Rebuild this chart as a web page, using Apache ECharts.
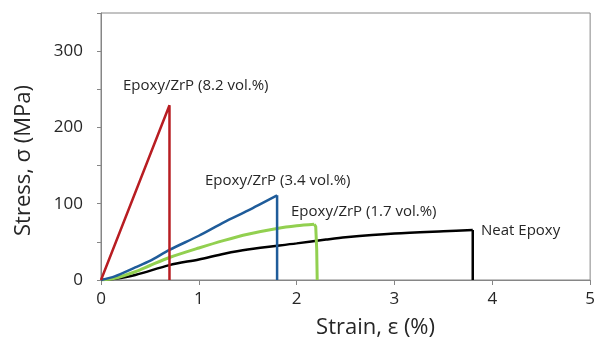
<!DOCTYPE html>
<html><head><meta charset="utf-8">
<script src="https://cdn.jsdelivr.net/npm/echarts@6/dist/echarts.min.js"></script>
<style>html,body{margin:0;padding:0;background:#fff}#c{width:598px;height:344px}</style>
</head><body><div id="c"></div>
<script>
// Strain (%) , Stress (MPa)
const neatEpoxy = [[0,0],[0.14,1.5],[0.35,6.5],[0.7,19.5],[1.0,27],[1.26,34.5],[1.5,40],[2.0,48],[2.3,53],[2.5,56],[3.0,61],[3.5,64],[3.8,65.5]];
const neatDrop = [[3.8,65.5],[3.8,0]];
const zrp17 = [[0,0],[0.14,2.2],[0.35,10.8],[0.5,19],[0.7,29.5],[1.0,42],[1.26,52],[1.5,60],[1.8,67.5],[2.0,71],[2.18,73]];
const zrp17Drop = [[2.18,73],[2.195,70],[2.205,40],[2.21,0]];
const zrp34 = [[0,0],[0.14,4.8],[0.35,16.5],[0.5,25],[0.7,39.5],[1.0,58],[1.26,76],[1.5,91],[1.8,111]];
const zrp34Drop = [[1.8,111],[1.8,0]];
const zrp82 = [[0,0],[0.7,229],[0.7,0]];
const xTicks = [0,1,2,3,4,5];
const yTicks = [0,100,200,300];
const labels = {
  zrp82: 'Epoxy/ZrP (8.2 vol.%)',
  zrp34: 'Epoxy/ZrP (3.4 vol.%)',
  zrp17: 'Epoxy/ZrP (1.7 vol.%)',
  neat: 'Neat Epoxy'
};

const chart = echarts.init(document.getElementById('c'), null, {renderer:'canvas'});
const FONT = 'Open Sans';
const axisColor = '#868686';
const txt = '#262626';
function annot(text, left, top){
  return {type:'text', left:left, top:top, style:{text:text, fill:txt, font:'15px "'+FONT+'"'}};
}
function line(data, color, width, smooth){
  return {type:'line', data:data, showSymbol:false, symbol:'none', smooth:smooth,
    lineStyle:{color:color, width:width}, z:2, animation:false};
}
chart.setOption({
  animation:false,
  grid:{left:101, right:6, top:13, bottom:63, show:true, borderColor:axisColor, borderWidth:1},
  xAxis:{type:'value', min:xTicks[0], max:xTicks[xTicks.length-1], interval:1,
    name:'Strain, ε (%)', nameLocation:'middle', nameGap:37,
    nameTextStyle:{fontFamily:FONT, fontSize:22, color:txt, padding:[0,0,0,60]},
    axisLine:{show:true, lineStyle:{color:axisColor, width:1}},
    axisTick:{show:true, inside:false, length:5, lineStyle:{color:axisColor}},
    axisLabel:{fontFamily:FONT, fontSize:17, color:txt, margin:11},
    splitLine:{show:false}},
  yAxis:{type:'value', min:0, max:350, interval:50,
    name:'Stress, σ (MPa)', nameLocation:'middle', nameGap:66,
    nameTextStyle:{fontFamily:FONT, fontSize:22, color:txt, padding:[0,28,0,0]},
    axisLine:{show:true, lineStyle:{color:axisColor, width:1}},
    axisTick:{show:true, inside:false, length:4, lineStyle:{color:axisColor}},
    axisLabel:{fontFamily:FONT, fontSize:17, color:txt, margin:18,
      formatter:function(v){return yTicks.indexOf(v)>=0 ? String(v) : '';}},
    splitLine:{show:false}},
  series:[
    line(neatEpoxy,'#000000',2.5,0.3),
    line(neatDrop,'#000000',2.5,false),
    line(zrp17,'#92D050',3,0.3),
    line(zrp17Drop,'#92D050',3,false),
    line(zrp34,'#1F5C9A',2.5,0.25),
    line(zrp34Drop,'#1F5C9A',2.5,false),
    line(zrp82,'#B81D22',2.5,false)
  ],
  graphic:[
    annot(labels.zrp82,123,78),
    annot(labels.zrp34,205,173),
    annot(labels.zrp17,291,204),
    annot(labels.neat,481,223)
  ]
});
</script></body></html>
